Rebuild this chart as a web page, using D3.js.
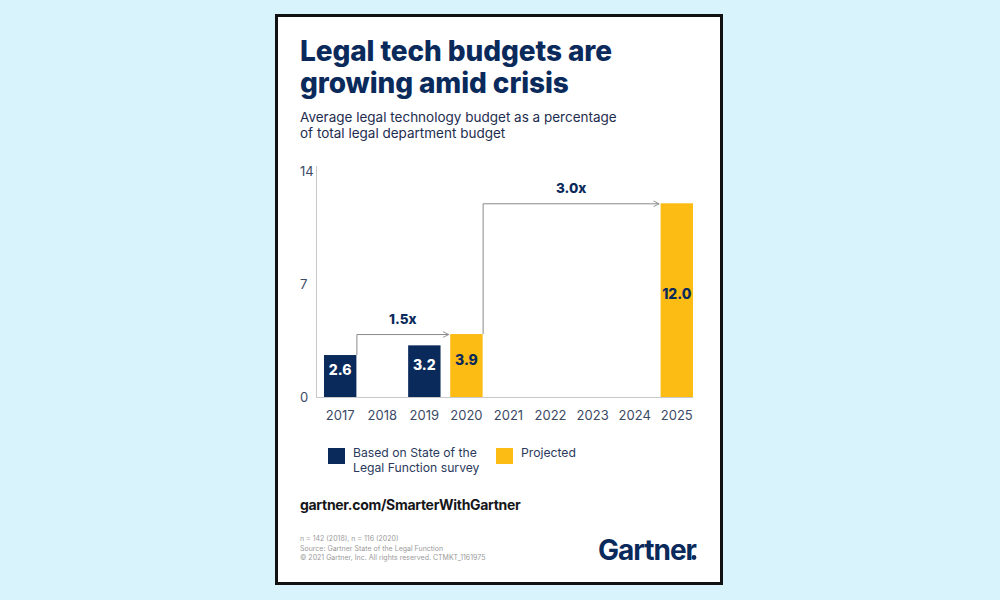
<!DOCTYPE html>
<html><head><meta charset="utf-8">
<script src="https://cdn.jsdelivr.net/npm/d3@7"></script>
<style>
html,body{margin:0;padding:0;background:#d8f3fc;}
svg{display:block;font-family:Inter,"Noto Sans",sans-serif;}
</style></head>
<body>
<svg id="c" width="1000" height="600"></svg>
<script>
const years = ["2017","2018","2019","2020","2021","2022","2023","2024","2025"];
const values = [2.6, null, 3.2, 3.9, null, null, null, null, 12.0];
const kinds = ["survey", null, "survey", "projected", null, null, null, null, "projected"];
const yTicks = [0, 7, 14];
const legendLabels = [["Based on State of the","Legal Function survey"],["Projected"]];
const growth = [{from:"2017", to:"2020", label:"1.5x"},{from:"2020", to:"2025", label:"3.0x"}];
const titleLines = ["Legal tech budgets are","growing amid crisis"];
const subtitleLines = ["Average legal technology budget as a percentage","of total legal department budget"];
const footLines = ["n = 142 (2018), n = 116 (2020)","Source: Gartner State of the Legal Function","© 2021 Gartner, Inc. All rights reserved. CTMKT_1161975"];

const NAVY = "#0b2a5c", YELLOW = "#fdbc13";
const color = {survey: NAVY, projected: YELLOW};
const svg = d3.select("#c");

svg.append("rect").attr("width",1000).attr("height",600).attr("fill","#d8f3fc");
svg.append("rect").attr("x",276.5).attr("y",15.5).attr("width",445).attr("height",568)
  .attr("fill","#fff").attr("stroke","#111").attr("stroke-width",3);

// title
svg.append("g").selectAll("text").data(titleLines).join("text")
  .attr("x",300).attr("y",(d,i)=>61+i*32).text(d=>d)
  .attr("fill",NAVY).attr("font-size",28).attr("font-weight",800).attr("letter-spacing",-0.1);
svg.append("g").selectAll("text").data(subtitleLines).join("text")
  .attr("x",300).attr("y",(d,i)=>122+i*16).text(d=>d)
  .attr("fill","#1e2d4f").attr("font-size",13.5);

// chart
const x = d3.scaleBand().domain(years).range([316,701]).paddingInner(0.23).paddingOuter(0.19);
const y = d3.scaleLinear().domain([0,14]).range([397,171]);

const gAxis = svg.append("g");
gAxis.append("line").attr("x1",316.5).attr("x2",316.5).attr("y1",y(14)-5).attr("y2",y(0)).attr("stroke","#c9c9c9");
gAxis.append("line").attr("x1",316).attr("x2",x("2025")+x.bandwidth()).attr("y1",y(0)+0.5).attr("y2",y(0)+0.5).attr("stroke","#c9c9c9");
gAxis.selectAll("text.yt").data(yTicks).join("text").attr("class","yt")
  .attr("x",300).attr("y",d=>y(d)+5).text(d=>d).attr("fill","#3d4a66").attr("font-size",13);
gAxis.selectAll("text.xt").data(years).join("text").attr("class","xt")
  .attr("x",d=>x(d)+x.bandwidth()/2).attr("y",420).attr("text-anchor","middle")
  .text(d=>d).attr("fill","#3d4a66").attr("font-size",13);

const data = years.map((yr,i)=>({year:yr, v:values[i], kind:kinds[i]})).filter(d=>d.v!=null);
svg.append("g").selectAll("rect").data(data).join("rect")
  .attr("x",d=>x(d.year)).attr("width",x.bandwidth())
  .attr("y",d=>y(d.v)).attr("height",d=>y(0)-y(d.v)).attr("fill",d=>color[d.kind]);
svg.append("g").selectAll("text").data(data).join("text")
  .attr("x",d=>x(d.year)+x.bandwidth()/2)
  .attr("y",d=>Math.min(y(0)-19, (y(d.v)+y(0))/2 - 3) + 2)
  .attr("text-anchor","middle").attr("font-weight",800).attr("font-size",14)
  .attr("fill",d=>d.kind==="survey"?"#fff":NAVY).text(d=>d.v.toFixed(1));

// growth arrows
const defs = svg.append("defs");
defs.append("marker").attr("id","ah").attr("viewBox","0 0 10 10").attr("refX",9).attr("refY",5)
  .attr("markerWidth",7).attr("markerHeight",7).attr("orient","auto")
  .append("path").attr("d","M1,1 L9,5 L1,9").attr("fill","none").attr("stroke","#8a8a8a").attr("stroke-width",1.3);
const valOf = yr => values[years.indexOf(yr)];
const ga = svg.append("g");
growth.forEach(g=>{
  const x0 = x(g.from)+x.bandwidth()+0.5;
  const y0 = y(valOf(g.from));
  const yTop = y(valOf(g.to));
  const x1 = x(g.to)-1.5;
  ga.append("path").attr("d",`M${x0},${y0} L${x0},${yTop+0.5} L${x1},${yTop+0.5}`)
    .attr("fill","none").attr("stroke","#8a8a8a").attr("stroke-width",1).attr("marker-end","url(#ah)");
  ga.append("text").attr("x",(x0+x1)/2).attr("y",yTop-10).attr("text-anchor","middle")
    .attr("font-weight",800).attr("font-size",13.5).attr("fill",NAVY).text(g.label);
});

// legend
const leg = svg.append("g");
const legX = [328, 496];
["survey","projected"].forEach((k,i)=>{
  leg.append("rect").attr("x",legX[i]).attr("y",448).attr("width",17).attr("height",16).attr("fill",color[k]);
  leg.selectAll(null).data(legendLabels[i]).join("text")
    .attr("x",legX[i]+25).attr("y",(d,j)=>457+j*14.5).text(d=>d)
    .attr("fill","#2b3a5c").attr("font-size",12.2);
});

svg.append("text").attr("x",300).attr("y",510).text("gartner.com/SmarterWithGartner")
  .attr("font-weight",700).attr("font-size",14).attr("letter-spacing",-0.3).attr("fill","#15161a");
svg.append("g").selectAll("text").data(footLines).join("text")
  .attr("x",300).attr("y",(d,i)=>541+i*9.5).text(d=>d).attr("fill","#9a9a9a").attr("font-size",7);

svg.append("text").attr("x",598).attr("y",560).text("Gartner")
  .attr("font-weight",700).attr("font-size",28).attr("fill",NAVY).attr("letter-spacing",-1);
svg.append("circle").attr("cx",694).attr("cy",557.5).attr("r",2.4).attr("fill",NAVY);
</script>
</body></html>
